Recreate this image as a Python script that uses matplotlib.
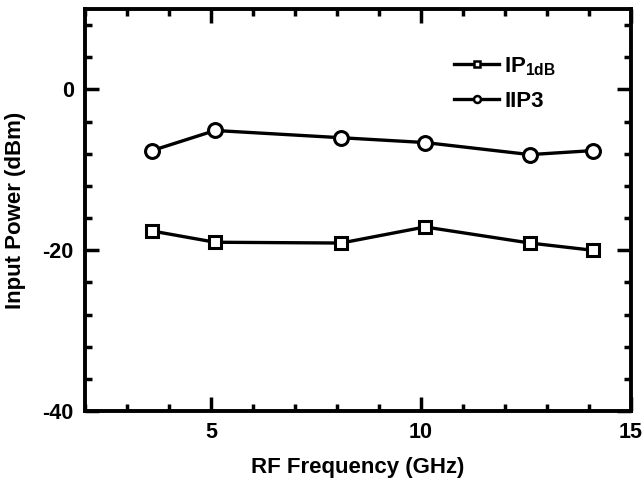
import matplotlib
matplotlib.use("Agg")
import matplotlib.pyplot as plt
from matplotlib.lines import Line2D
from matplotlib.ticker import MultipleLocator

plt.rcParams["font.family"] = ["Liberation Sans", "DejaVu Sans"]
plt.rcParams["font.weight"] = "bold"
plt.rcParams["axes.unicode_minus"] = False
plt.rcParams["mathtext.fontset"] = "custom"
plt.rcParams["mathtext.rm"] = "Liberation Sans:bold"
plt.rcParams["mathtext.bf"] = "Liberation Sans:bold"
plt.rcParams["mathtext.default"] = "bf"

freq = [3.6, 5.1, 8.1, 10.1, 12.6, 14.1]
ip1db = [-17.6, -19.0, -19.1, -17.1, -19.1, -20.0]
iip3 = [-7.6, -5.1, -6.0, -6.6, -8.1, -7.6]

fig = plt.figure(figsize=(6.43, 4.78), dpi=100)
ax = fig.add_axes([0.132, 0.140, 0.849, 0.841])

ax.plot(freq, ip1db, color="black", lw=2.4, marker="s", ms=9, mfc="white", mec="black", mew=2.2)
ax.plot(freq, iip3, color="black", lw=2.4, marker="o", ms=10, mfc="white", mec="black", mew=2.2)

ax.set_xlim(2, 15)
ax.set_ylim(-40, 10)
ax.xaxis.set_minor_locator(MultipleLocator(1))
ax.yaxis.set_minor_locator(MultipleLocator(4))
ax.set_xticks([5, 10, 15])
ax.set_yticks([-40, -20, 0])

for s in ax.spines.values():
    s.set_linewidth(2.8)
ax.tick_params(which="both", direction="in", top=True, right=True, width=2.5, labelsize=15.5)
ax.tick_params(which="major", length=10, pad=8)
ax.tick_params(which="minor", length=5)

ax.set_xlabel("RF Frequency (GHz)", fontsize=16, fontweight="bold", labelpad=10)
ax.set_ylabel("Input Power (dBm)", fontsize=16, fontweight="bold", labelpad=12)

# smaller markers in the legend than on the curves
handles = [
    Line2D([], [], color="black", lw=2.4, marker="s", ms=5, mfc="white", mec="black", mew=1.8),
    Line2D([], [], color="black", lw=2.4, marker="o", ms=5, mfc="white", mec="black", mew=1.8),
]
ax.legend(handles, ["IP$_{1dB}$", "IIP3"], loc="upper right", bbox_to_anchor=(0.90, 0.935),
          frameon=False, fontsize=16, handlelength=2.0, handletextpad=0.25, labelspacing=0.6)

fig.savefig("out.png", dpi=100)
